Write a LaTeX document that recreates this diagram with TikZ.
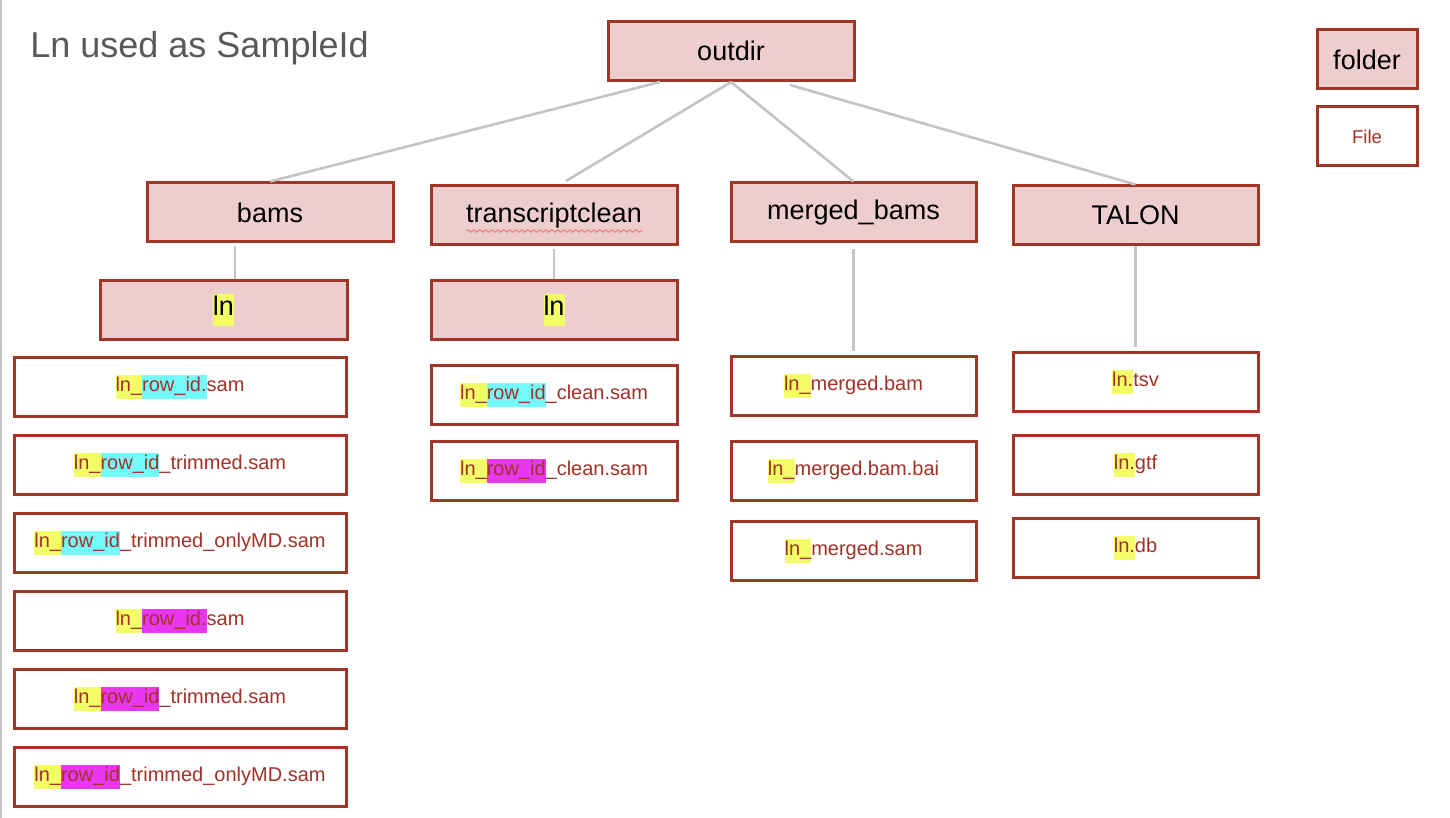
\documentclass[tikz,border=0pt]{standalone}
\usepackage{fontspec}
\setmainfont{Liberation Sans}
\usetikzlibrary{decorations.pathmorphing}
\definecolor{folderfill}{RGB}{237,205,205}
\definecolor{boxred}{RGB}{163,52,40}
\definecolor{filered}{RGB}{160,50,40}
\definecolor{conngrey}{RGB}{196,196,196}
\definecolor{titlegrey}{RGB}{89,89,89}
\definecolor{hlyellow}{RGB}{244,255,104}
\definecolor{hlcyan}{RGB}{116,252,253}
\definecolor{hlmagenta}{RGB}{233,54,240}
\definecolor{spellred}{RGB}{232,120,120}
\newcommand\hlY[1]{{\setlength{\fboxsep}{0pt}\colorbox{hlyellow}{\strut #1}}}
\newcommand\hlC[1]{{\setlength{\fboxsep}{0pt}\colorbox{hlcyan}{\strut #1}}}
\newcommand\hlM[1]{{\setlength{\fboxsep}{0pt}\colorbox{hlmagenta}{\strut #1}}}
\tikzset{
  box/.style={draw=boxred, line width=1.5pt, inner sep=0pt, minimum height=29.5pt},
  folder/.style={box, fill=folderfill, text=black, font=\fontsize{13.5}{16}\selectfont},
  file/.style={box, fill=white, text=filered, font=\fontsize{10}{12}\selectfont},
  conn/.style={draw=conngrey, line width=1.3pt},
}
\begin{document}
\begin{tikzpicture}[x=0.5pt,y=-0.5pt]
\useasboundingbox (0,0) rectangle (1450,818);
\draw[draw=conngrey, line width=1pt] (1,0) -- (1,818);
\node[anchor=base west, inner sep=0pt, text=titlegrey, font=\fontsize{18}{22}\selectfont] (title) at (30,58) {Ln used as SampleId};

% folders
\node[folder, minimum width=123pt] (outdir) at (731,51) {outdir};
\node[folder, minimum width=50pt] (legfolder) at (1367,59.5) {folder};
\node[file, minimum width=50pt, font=\fontsize{9.3}{11}\selectfont] (legfile) at (1367,136.5) {File};

\node[folder, minimum width=123pt] (bams) at (270,212.5) {bams};
\node[folder, minimum width=123pt] (tc) at (554,215.5) {transcriptclean};
\node[folder, minimum width=122.5pt] (mb) at (853.5,212.5) {merged\_bams};
\node[folder, minimum width=122.5pt] (talon) at (1135.5,215.5) {TALON};

\node[folder, minimum width=123.5pt] (lnA) at (223.5,309.5) {\hlY{ln}};
\node[folder, minimum width=123pt] (lnB) at (554,309.5) {\hlY{ln}};

% bams files
\node[file, minimum width=166pt] (bf1) at (180,387) {\hlY{ln\_}\hlC{row\_id.}sam};
\node[file, minimum width=166pt] (bf2) at (180,465) {\hlY{ln\_}\hlC{row\_id}\_trimmed.sam};
\node[file, minimum width=166pt] (bf3) at (180,543) {\hlY{ln\_}\hlC{row\_id}\_trimmed\_onlyMD.sam};
\node[file, minimum width=166pt] (bf4) at (180,621) {\hlY{ln\_}\hlM{row\_id.}sam};
\node[file, minimum width=166pt] (bf5) at (180,699) {\hlY{ln\_}\hlM{row\_id}\_trimmed.sam};
\node[file, minimum width=166pt] (bf6) at (180,777) {\hlY{ln\_}\hlM{row\_id}\_trimmed\_onlyMD.sam};

% transcriptclean files
\node[file, minimum width=123pt] (tf1) at (554,395) {\hlY{ln\_}\hlC{row\_id}\_clean.sam};
\node[file, minimum width=123pt] (tf2) at (554,471) {\hlY{ln\_}\hlM{row\_id}\_clean.sam};

% merged files
\node[file, minimum width=122.5pt] (mf1) at (853.5,386) {\hlY{ln\_}merged.bam};
\node[file, minimum width=122.5pt] (mf2) at (853.5,471) {\hlY{ln\_}merged.bam.bai};
\node[file, minimum width=122.5pt] (mf3) at (853.5,551) {\hlY{ln\_}merged.sam};

% TALON files
\node[file, minimum width=122.5pt] (lf1) at (1135.5,382) {\hlY{ln.}tsv};
\node[file, minimum width=122.5pt] (lf2) at (1135.5,465) {\hlY{ln.}gtf};
\node[file, minimum width=122.5pt] (lf3) at (1135.5,548) {\hlY{ln.}db};

% spell-check underline
\draw[spellred, line width=0.5pt, decorate, decoration={snake, amplitude=0.6pt, segment length=3pt}] (466,231) -- (642,231);

% connectors
\coordinate (oL) at (660,82);
\coordinate (oR) at (790,85);
\coordinate (tcEnd) at (566,181);
\coordinate (bA) at (235,246);
\draw[conn] (oL) -- (bams.north);
\draw[conn] (outdir.south) -- (tcEnd);
\draw[conn] (outdir.south) -- (mb.north);
\draw[conn] (oR) -- (talon.north);
\draw[conn] (bA) -- (bA |- lnA.north);
\draw[conn, shorten <=1.5pt] (tc.south) -- (lnB.north);
\draw[conn, shorten <=3pt, shorten >=2pt] (mb.south) -- (mf1.north);
\draw[conn, shorten >=2pt] (talon.south) -- (lf1.north);
\end{tikzpicture}
\end{document}
